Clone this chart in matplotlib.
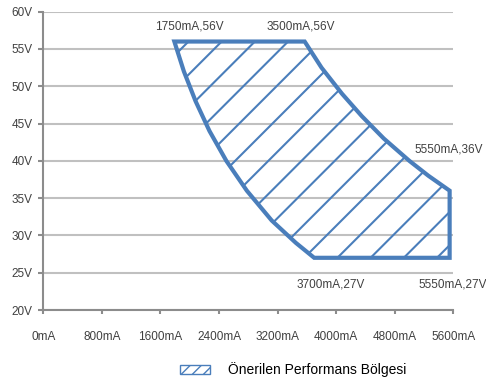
import matplotlib
matplotlib.use("Agg")
import matplotlib.pyplot as plt
from matplotlib.patches import Polygon, Patch
from matplotlib.lines import Line2D

# recommended operating region (current in mA, voltage in V)
boundary_ma = [1790, 3570, 3800, 4080, 4350, 4650, 5000, 5260, 5550,
               5550, 3700, 3450, 3120, 2780, 2500, 2270, 2080, 1920]
boundary_v = [56, 56, 52.5, 49, 46, 43, 40, 38, 36,
              27, 27, 29, 32, 36, 40, 44, 48, 52]

corner_labels = ["1750mA,56V", "3500mA,56V", "5550mA,36V", "3700mA,27V", "5550mA,27V"]
x_ticks = [0, 800, 1600, 2400, 3200, 4000, 4800, 5600]
y_ticks = [20, 25, 30, 35, 40, 45, 50, 55, 60]
legend_label = "Önerilen Performans Bölgesi"

blue = "#4a7ebb"
plt.rcParams["font.family"] = ["Liberation Sans", "DejaVu Sans"]
plt.rcParams["hatch.color"] = blue

fig = plt.figure(figsize=(4.86, 3.85), dpi=100)
ax = fig.add_axes([0.0891, 0.1948, 0.8436, 0.7748])

ax.set_xlim(0, 5600)
ax.set_ylim(20, 60)
ax.set_xticks(x_ticks)
ax.set_xticklabels([f"{t}mA" for t in x_ticks])
ax.set_yticks(y_ticks)
ax.set_yticklabels([f"{t}V" for t in y_ticks])

ax.grid(axis="y", color="#c0c0c0", lw=1.5)
ax.set_axisbelow(True)
for s in ["top", "right"]:
    ax.spines[s].set_visible(False)
for s in ["left", "bottom"]:
    ax.spines[s].set_color("#8c8c8c")
    ax.spines[s].set_linewidth(1.5)
ax.tick_params(axis="x", length=3, width=1.5, color="#8c8c8c", pad=12,
               labelsize=8.5, labelcolor="#404040")
ax.tick_params(axis="y", length=3.5, width=1.5, color="#8c8c8c", pad=4,
               labelsize=8.5, labelcolor="#404040")

poly = Polygon(list(zip(boundary_ma, boundary_v)), closed=True,
               facecolor="none", edgecolor=blue, lw=3, zorder=3)
ax.add_patch(poly)

# diagonal hatch lines (45 deg in pixels), clipped to the region
for k in range(-3, 18):
    c = 230 + k * 33.2
    x0 = (c - 353.3) / 410
    x1 = (c - 353.3 + 298.3) / 410
    ln = Line2D([x0, x1], [0, 1], transform=ax.transAxes, color=blue, lw=1.5, zorder=2)
    ax.add_line(ln)
    ln.set_clip_path(poly)

label_pos = [(1997, 57.95), (3513, 57.95), (5541, 41.46), (3923, 23.36), (5597, 23.36)]
for txt, (x, y) in zip(corner_labels, label_pos):
    ax.text(x, y, txt, ha="center", va="center", fontsize=8.5, color="#404040")

handle = Patch(facecolor="white", edgecolor=blue, hatch="///", lw=1)
fig.legend([handle], [legend_label], loc="center left",
           bbox_to_anchor=(172.7 / 486, 0.039), frameon=False, borderpad=0,
           fontsize=10, handlelength=2.15, handleheight=0.65, handletextpad=1.35)

fig.savefig("out.png", dpi=100)
